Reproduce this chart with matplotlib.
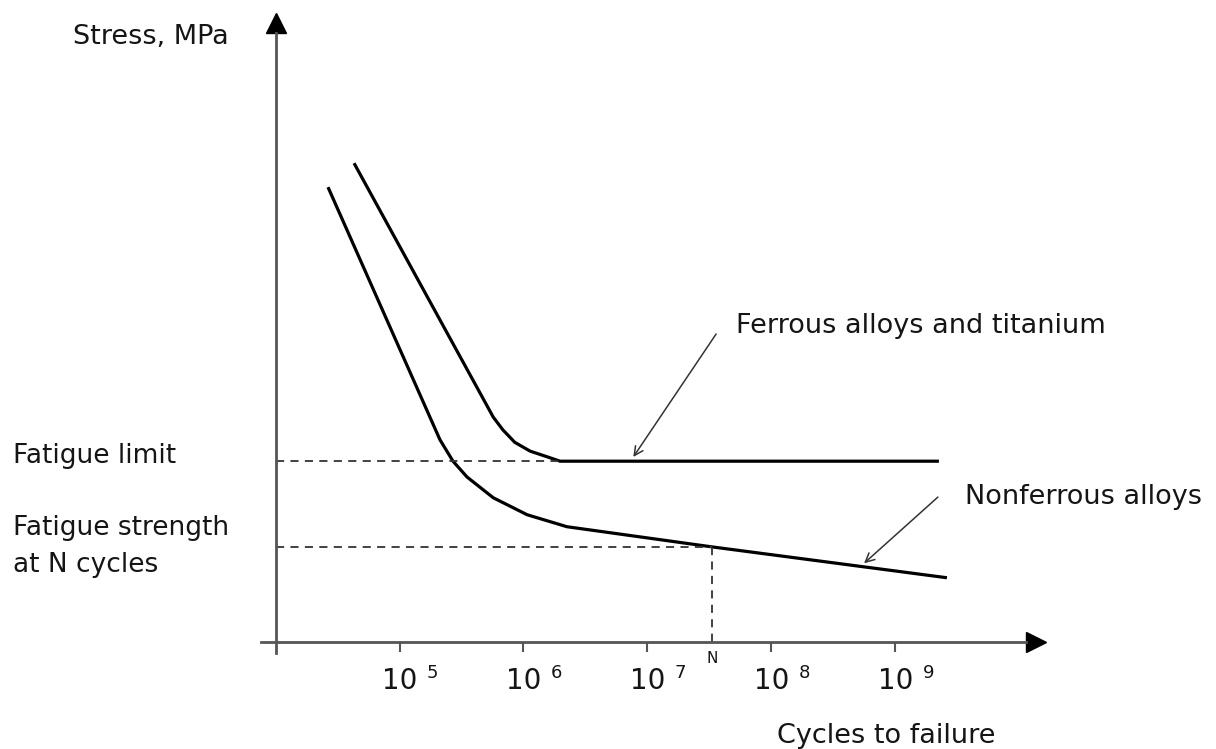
import matplotlib
matplotlib.use('Agg')
import matplotlib.pyplot as plt
from matplotlib.ticker import NullLocator

plt.rcParams['font.family'] = ['DejaVu Sans']

# S-N curves (cycles to failure, stress in arbitrary units)
ferrous_cycles = [4.3e4, 5.7e5, 6.8e5, 8.5e5, 1.13e6, 1.55e6, 1.97e6, 2.24e9]
ferrous_stress = [76.0, 35.7, 33.7, 31.7, 30.3, 29.4, 28.7, 28.7]

nonferrous_cycles = [2.65e4, 2.12e5, 2.7e5, 3.5e5, 5.7e5, 1.07e6, 2.24e6, 3.31e7, 2.6e9]
nonferrous_stress = [72.2, 32.1, 28.7, 26.2, 22.9, 20.2, 18.3, 15.1, 10.2]

fatigue_limit = 28.7
n_cycles = 3.31e7
fatigue_strength_n = 15.1

decades = [5, 6, 7, 8, 9]
tick_labels = ['10', '10', '10', '10', '10']

fig = plt.figure(figsize=(12.16, 7.49), dpi=100)
ax = fig.add_axes([0, 0, 1, 1])
ax.set_xscale('log')
ax.set_xlim(10 ** 1.778, 10 ** 11.585)
ax.set_ylim(-16.98, 101.9)

axis_col = '#555555'
txt_col = '#151515'
dash_col = '#333333'

# axes with arrows
for s in ['top', 'right']:
    ax.spines[s].set_visible(False)
ax.spines['left'].set_position(('data', 1e4))
ax.spines['left'].set_bounds(-1.7, 96.7)
ax.spines['bottom'].set_position(('data', 0))
ax.spines['bottom'].set_bounds(10 ** 3.88, 10 ** 10.05)
for s in ['left', 'bottom']:
    ax.spines[s].set_color(axis_col)
    ax.spines[s].set_linewidth(2)
ax.plot([10 ** 10.133], [0], marker='>', ms=15, color='k', clip_on=False)
ax.plot([1e4], [98.27], marker='^', ms=15, color='k', clip_on=False)

ax.set_xticks([10.0 ** d for d in decades])
ax.xaxis.set_minor_locator(NullLocator())
ax.tick_params(axis='x', direction='out', length=7, width=1.5, color=axis_col,
               labelbottom=False)
ax.set_yticks([])

# tick labels 10^d
for d, lab in zip(decades, tick_labels):
    ax.text(10.0 ** d, -7.46, lab, ha='center', va='baseline', fontsize=20, color=txt_col)
    ax.annotate(str(d), xy=(10.0 ** d, -7.46), xytext=(23.8, 8), textcoords='offset points',
                ha='center', va='baseline', fontsize=13, color=txt_col)

# curves
ax.plot(ferrous_cycles, ferrous_stress, color='k', lw=2.3, solid_capstyle='butt',
        solid_joinstyle='round')
ax.plot(nonferrous_cycles, nonferrous_stress, color='k', lw=2.3, solid_capstyle='butt',
        solid_joinstyle='round')

# dashed guides
ax.plot([1e4, ferrous_cycles[-2]], [fatigue_limit, fatigue_limit],
        color=dash_col, lw=1.3, dashes=(4.5, 3.5))
ax.plot([1e4, n_cycles], [fatigue_strength_n, fatigue_strength_n],
        color=dash_col, lw=1.3, dashes=(4.5, 3.5))
ax.plot([n_cycles, n_cycles], [fatigue_strength_n, 0],
        color=dash_col, lw=1.3, dashes=(4.5, 3.5))
ax.annotate('N', xy=(n_cycles, 0), xytext=(0, -15), textcoords='offset points',
            ha='center', va='baseline', fontsize=11, color=txt_col)

# annotation arrows
ax.annotate('', xy=(10 ** 6.873, 29.0), xytext=(10 ** 7.566, 49.25),
            arrowprops=dict(arrowstyle='->', lw=1.1, color=dash_col, mutation_scale=16))
ax.annotate('', xy=(10 ** 8.730, 12.2), xytext=(10 ** 9.359, 23.3),
            arrowprops=dict(arrowstyle='->', lw=1.1, color=dash_col, mutation_scale=16))


def px(x, y):
    return x / 1216, 1 - y / 749


fig.text(*px(73, 44), 'Stress, MPa', fontsize=19.5, color=txt_col, ha='left', va='baseline')
fig.text(*px(13, 463), 'Fatigue limit', fontsize=19, color=txt_col, ha='left', va='baseline')
fig.text(*px(13, 535), 'Fatigue strength', fontsize=19, color=txt_col, ha='left', va='baseline')
fig.text(*px(13, 572), 'at N cycles', fontsize=19, color=txt_col, ha='left', va='baseline')
fig.text(*px(736, 333), 'Ferrous alloys and titanium', fontsize=19.5, color=txt_col,
         ha='left', va='baseline')
fig.text(*px(965, 504), 'Nonferrous alloys', fontsize=19.5, color=txt_col,
         ha='left', va='baseline')
fig.text(*px(995, 743), 'Cycles to failure', fontsize=19.5, color=txt_col,
         ha='right', va='baseline')

fig.savefig('out.png', dpi=100)
